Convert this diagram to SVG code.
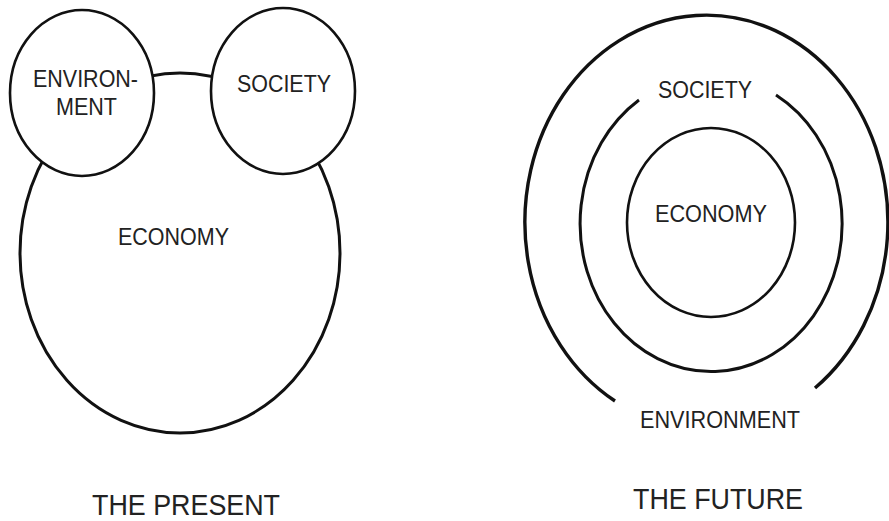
<svg xmlns="http://www.w3.org/2000/svg" width="889" height="521" viewBox="0 0 889 521">
<style>
.ln{fill:none;stroke:#111;stroke-width:3}
.cf{fill:#fff;stroke:#111;stroke-width:2.6}
.t{font-family:"Liberation Sans",Arial,sans-serif;fill:#222;text-anchor:middle}
.s{font-size:23px}
.b{font-size:29px}
</style>
<rect width="889" height="521" fill="#fff"/>
<g id="present">
<g id="economy-present">
<ellipse class="ln" cx="180" cy="253" rx="160" ry="180"/>
<text class="t s" x="173.5" y="245" textLength="111" lengthAdjust="spacingAndGlyphs">ECONOMY</text>
</g>
<g id="environment-present">
<ellipse class="cf" cx="82" cy="93" rx="72" ry="83"/>
<text class="t s" x="85.5" y="87" textLength="105" lengthAdjust="spacingAndGlyphs">ENVIRON-</text>
<text class="t s" x="86.5" y="115" textLength="61" lengthAdjust="spacingAndGlyphs">MENT</text>
</g>
<g id="society-present">
<ellipse class="cf" cx="283" cy="91" rx="72" ry="83"/>
<text class="t s" x="284" y="92" textLength="94" lengthAdjust="spacingAndGlyphs">SOCIETY</text>
</g>
<text id="title-present" class="t b" x="186" y="515" textLength="188" lengthAdjust="spacingAndGlyphs">THE PRESENT</text>
</g>
<g id="future">
<g id="environment-future">
<path class="ln" style="stroke-width:3.4" d="M615 401 A181.5 207 0 1 1 815 388"/>
<text class="t s" x="720" y="428" textLength="160" lengthAdjust="spacingAndGlyphs">ENVIRONMENT</text>
</g>
<g id="society-future">
<path class="ln" d="M776 95 A131 148 0 1 1 639 100"/>
<text class="t s" x="705" y="98" textLength="94" lengthAdjust="spacingAndGlyphs">SOCIETY</text>
</g>
<g id="economy-future">
<ellipse class="ln" style="stroke-width:2.6" cx="711" cy="222.5" rx="84" ry="94.5"/>
<text class="t s" x="711" y="222" textLength="112" lengthAdjust="spacingAndGlyphs">ECONOMY</text>
</g>
<text id="title-future" class="t b" x="718" y="509" textLength="170" lengthAdjust="spacingAndGlyphs">THE FUTURE</text>
</g>
<g id="connectors"></g>
</svg>
